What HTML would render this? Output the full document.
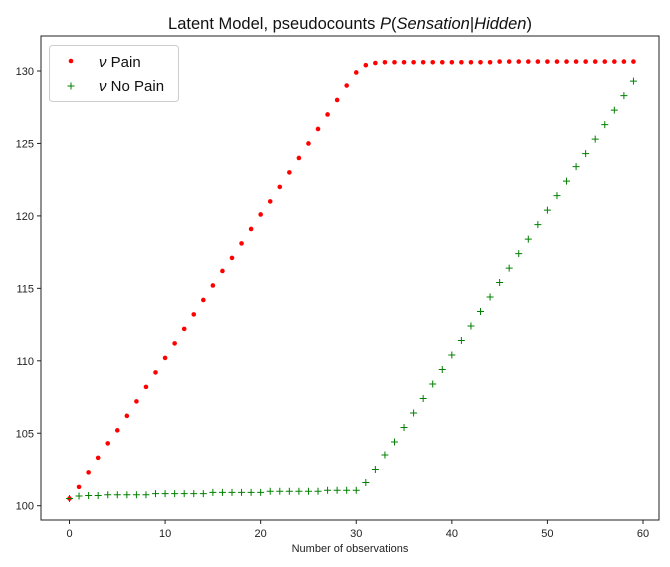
<!DOCTYPE html>
<html><head><meta charset="utf-8"><style>
body{margin:0;background:#fff;}
svg{display:block;font-family:"Liberation Sans","DejaVu Sans",sans-serif;}
</style></head><body>
<svg id="chart" width="670" height="567">
<text x="350" y="29" font-size="16.5" text-anchor="middle" fill="#111">Latent Model, pseudocounts <tspan font-style="italic">P</tspan>(<tspan font-style="italic">Sensation</tspan>|<tspan font-style="italic">Hidden</tspan>)</text>
<text x="0" y="0" font-size="15" fill="#111" text-anchor="middle" transform="translate(-4,279) rotate(-90)">ν</text>
<g id="axes"></g>
<g id="marks"></g>
<text x="350" y="552" font-size="11" text-anchor="middle" fill="#222">Number of observations</text>
<g>
<rect x="49.5" y="45.5" width="129" height="56" rx="3" fill="#fff" stroke="#ccc"/>
<circle cx="71" cy="61" r="2.3" fill="red"/>
<text x="99" y="67" font-size="15" fill="#111"><tspan font-style="italic">ν</tspan> Pain</text>
<path d="M67.5,86H74.5M71,82.5V89.5" stroke="green"/>
<text x="99" y="91" font-size="15" fill="#111"><tspan font-style="italic">ν</tspan> No Pain</text>
</g>
</svg>
<script>
const xTicks=[0,10,20,30,40,50,60];
const yTicks=[100,105,110,115,120,125,130];
const painValues=[100.5,101.3,102.3,103.3,104.3,105.2,106.2,107.2,108.2,109.2,110.2,111.2,112.2,113.2,114.2,115.2,116.2,117.1,118.1,119.1,120.1,121.0,122.0,123.0,124.0,125.0,126.0,127.0,128.0,129.0,129.9,130.4,130.55,130.6,130.6,130.6,130.6,130.6,130.6,130.6,130.6,130.6,130.6,130.6,130.6,130.65,130.65,130.65,130.65,130.65,130.65,130.65,130.65,130.65,130.65,130.65,130.65,130.65,130.65,130.65];
const noPainValues=[100.5,100.67,100.7,100.7,100.76,100.76,100.76,100.76,100.76,100.83,100.83,100.83,100.83,100.83,100.83,100.92,100.92,100.92,100.92,100.92,100.92,101.0,101.0,101.0,101.0,101.0,101.0,101.07,101.07,101.07,101.07,101.6,102.5,103.5,104.4,105.4,106.4,107.4,108.4,109.4,110.4,111.4,112.4,113.4,114.4,115.4,116.4,117.4,118.4,119.4,120.4,121.4,122.4,123.4,124.3,125.3,126.3,127.3,128.3,129.3];
const NS='http://www.w3.org/2000/svg';
const L=41,R=659,T=36,B=520;
const xs=v=>69.5+v*(643-69.5)/60;
const ys=v=>505.7-(v-100)*(505.7-71)/30;
function mk(tag,attrs,parent){const e=document.createElementNS(NS,tag);for(const k in attrs)e.setAttribute(k,attrs[k]);parent.appendChild(e);return e;}
const ax=document.getElementById('axes'),mg=document.getElementById('marks');
const frame=mk('rect',{x:L,y:T,width:R-L,height:B-T,fill:'none',stroke:'#222','stroke-width':1},ax);


xTicks.forEach(t=>{const x=xs(t);
 const l=mk('line',{x1:x,x2:x,y1:B,y2:B+4,stroke:'#222'},ax);
 
 
 const tx=mk('text',{x:x,y:B+17,'font-size':11,'text-anchor':'middle',fill:'#222'},ax);tx.textContent=t;
 
 });
yTicks.forEach(t=>{const y=ys(t);
 const l=mk('line',{x1:L-4,x2:L,y1:y,y2:y,stroke:'#222'},ax);
 
 
 const tx=mk('text',{x:L-7,y:y+4,'font-size':11,'text-anchor':'end',fill:'#222'},ax);tx.textContent=t;
 
 });
painValues.forEach((v,i)=>{const c=mk('circle',{cx:xs(i),cy:ys(v),r:2.3,fill:'red'},mg);
 
 });
noPainValues.forEach((v,i)=>{const x=xs(i),y=ys(v);
 const p=mk('path',{d:`M${x-3.5},${y}H${x+3.5}M${x},${y-3.5}V${y+3.5}`,stroke:'green','stroke-width':1},mg);
 
 });
</script>
</body></html>
